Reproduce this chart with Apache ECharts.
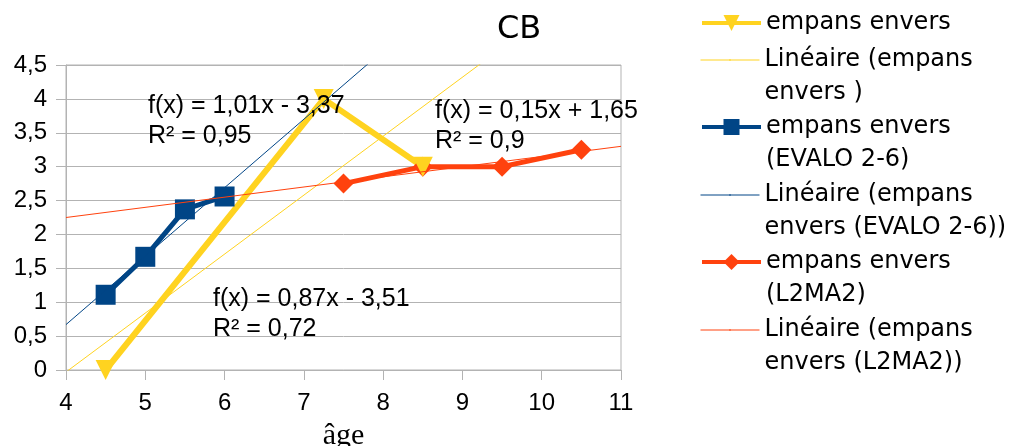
<!DOCTYPE html>
<html><head><meta charset="utf-8">
<script src="https://cdn.jsdelivr.net/npm/echarts@6/dist/echarts.min.js"></script>
<style>html,body{margin:0;padding:0;background:#fff}#c{width:1023px;height:446px}</style>
</head><body><div id="c"></div>
<script>
// ---- data ----
const titleText = 'CB';
const xAxisName = 'âge';
const agesA = [4.5, 7.25, 8.5];
const valuesA = [0, 4, 3];
const agesB = [4.5, 5, 5.5, 6];
const valuesB = [1.11, 1.67, 2.37, 2.56];
const agesC = [7.5, 8.5, 9.5, 10.5];
const valuesC = [2.75, 3, 3, 3.25];
// trend lines (from the equations shown): order A, B, C
const trendSlopes = [0.87, 1.01, 0.15];
const trendIntercepts = [-3.51, -3.37, 1.65];
const equationTexts = ['f(x) = 0,87x - 3,51\nR² = 0,72', 'f(x) = 1,01x - 3,37\nR² = 0,95', 'f(x) = 0,15x + 1,65\nR² = 0,9'];
const legendLabels = ['empans envers', 'Linéaire (empans\nenvers )', 'empans envers\n(EVALO 2-6)', 'Linéaire (empans\nenvers (EVALO 2-6))', 'empans envers\n(L2MA2)', 'Linéaire (empans\nenvers (L2MA2))'];

// ---- style ----
const COL = ['#ffd320', '#004586', '#ff420e'];
const SANS = 'DejaVu Sans';
const LIB = 'Liberation Sans';
const GRAY = '#b3b3b3';
const X_MIN = 4, X_MAX = 11;
const triDown = 'path://M0,0 L10,0 L5,10 Z';

const pairs = (xs, ys) => xs.map((x, i) => [x, ys[i]]);
const trend = i => [X_MIN, X_MAX].map(x => [x, trendSlopes[i] * x + trendIntercepts[i]]);
const comma = v => String(v).replace('.', ',');

const ids = ['A', 'TA', 'B', 'TB', 'C', 'TC'];
const iconY = [23, 60, 127, 195, 262, 330];
const legends = ids.map((id, i) => {
  const two = legendLabels[i].indexOf('\n') >= 0;
  const isTrend = id[0] === 'T';
  const ih = isTrend ? 2 : 20;
  const label = two ? '\n' + legendLabels[i] : legendLabels[i];
  return {
    data: [{name: id}],
    left: 700,
    top: two ? iconY[i] - 49.5 : iconY[i] - 16.5,
    orient: 'vertical', padding: 0, itemGap: 0,
    itemWidth: 59, itemHeight: ih,
    selectedMode: false,
    lineStyle: {width: isTrend ? 1 : 4},
    formatter: () => label,
    textStyle: {fontFamily: SANS, fontSize: 24, color: '#000', lineHeight: 33}
  };
});

const main = (id, xs, ys, c, sym, size, w) => ({
  id, name: id, type: 'line', data: pairs(xs, ys), z: 3,
  symbol: sym, symbolSize: size, showSymbol: true,
  lineStyle: {color: c, width: w}, itemStyle: {color: c},
  emphasis: {disabled: true}, animation: false
});
const tline = (id, i, c) => ({
  id, name: id, type: 'line', data: trend(i), z: 4, clip: true,
  symbol: 'none', lineStyle: {color: c, width: 1}, itemStyle: {color: c},
  emphasis: {disabled: true}, animation: false
});
const eqFont = '25px "Liberation Sans"';

const chart = echarts.init(document.getElementById('c'));
chart.setOption({
  backgroundColor: '#fff',
  animation: false,
  title: {text: titleText, left: 497, top: 14, padding: 0,
    textStyle: {fontFamily: SANS, fontSize: 32, fontWeight: 'normal', color: '#000'}},
  legend: legends,
  grid: {left: 66, top: 65, width: 555, height: 305, show: true, borderColor: GRAY, borderWidth: 1,
    containLabel: false, outerBoundsMode: 'none'},
  xAxis: {
    type: 'value', min: X_MIN, max: X_MAX, interval: 1,
    name: xAxisName, nameLocation: 'middle', nameGap: 51,
    nameTextStyle: {fontFamily: 'Liberation Serif', fontSize: 30, color: '#000'},
    axisLine: {show: true, lineStyle: {color: GRAY}},
    axisTick: {show: true, length: 10, lineStyle: {color: GRAY}},
    splitLine: {show: false},
    axisLabel: {fontFamily: LIB, fontSize: 24, color: '#000', margin: 21, formatter: comma}
  },
  yAxis: {
    type: 'value', min: 0, max: 4.5, interval: 0.5,
    axisLine: {show: true, lineStyle: {color: GRAY}},
    axisTick: {show: true, length: 10, lineStyle: {color: GRAY}},
    splitLine: {show: true, lineStyle: {color: GRAY}},
    axisLabel: {fontFamily: LIB, fontSize: 24, color: '#000', margin: 19, formatter: comma}
  },
  graphic: [
    {type: 'text', left: 213, top: 284, z: 10, style: {text: equationTexts[0], font: eqFont, fill: '#000', lineHeight: 30}},
    {type: 'text', left: 148, top: 91, z: 10, style: {text: equationTexts[1], font: eqFont, fill: '#000', lineHeight: 30}},
    {type: 'text', left: 435, top: 96, z: 10, style: {text: equationTexts[2], font: eqFont, fill: '#000', lineHeight: 30}}
  ],
  series: [
    main('C', agesC, valuesC, COL[2], 'diamond', 20, 5),
    main('B', agesB, valuesB, COL[1], 'rect', 20, 5),
    main('A', agesA, valuesA, COL[0], triDown, [20, 20], 6),
    tline('TA', 0, COL[0]),
    tline('TB', 1, COL[1]),
    tline('TC', 2, COL[2])
  ]
});
</script></body></html>
